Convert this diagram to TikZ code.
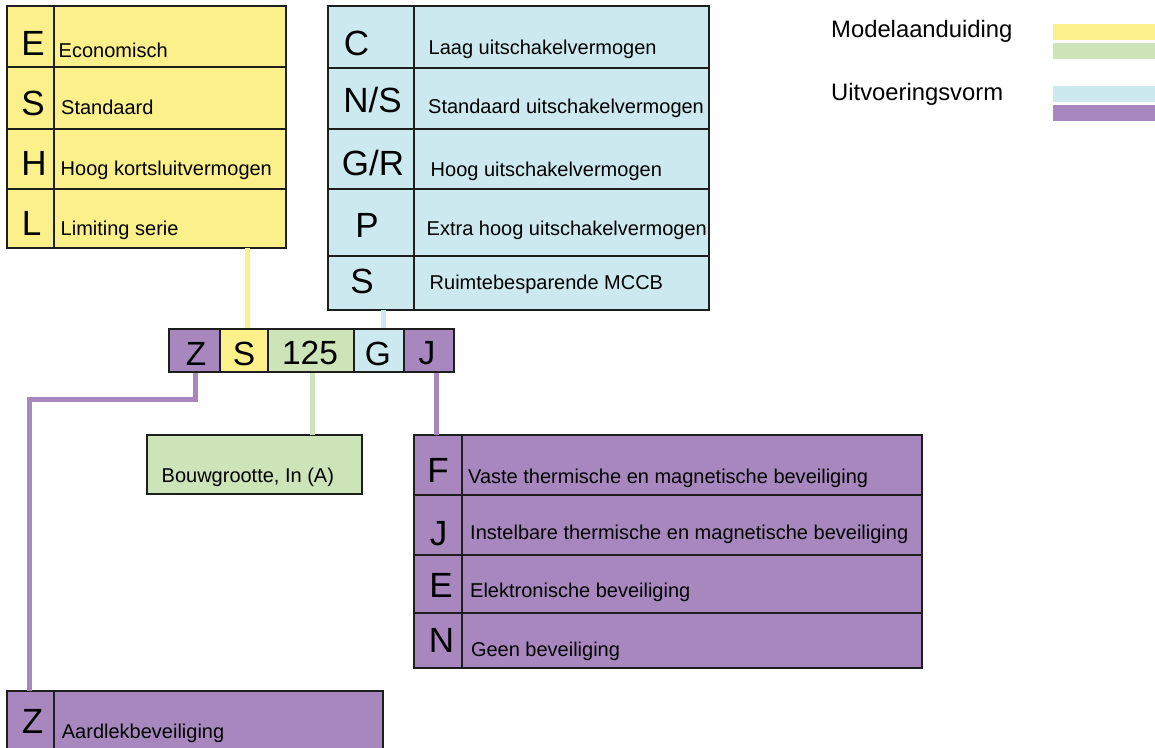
\documentclass[tikz,border=0pt]{standalone}
\usepackage{fontspec}
\setmainfont{Liberation Sans}
\definecolor{cy}{HTML}{FBF08A}
\definecolor{cg}{HTML}{CCE4B8}
\definecolor{cb}{HTML}{CCE9F0}
\definecolor{cp}{HTML}{A787BE}
\definecolor{edge}{HTML}{1E1E1E}
\tikzset{
 cell/.style={draw=edge, line width=1.8pt, rectangle, inner sep=0pt, outer sep=0pt, anchor=north west},
 small/.style={inner sep=0pt, anchor=base west, font=\fontsize{20}{21}\selectfont},
 big/.style={inner sep=0pt, anchor=base, font=\fontsize{35}{36}\selectfont},
 codetxt/.style={inner sep=0pt, anchor=base, font=\fontsize{33.5}{34}\selectfont},
 leg/.style={inner sep=0pt, anchor=base west, font=\fontsize{23.8}{24}\selectfont},
 conn/.style={line width=5pt},
 bar/.style={inner sep=0pt, outer sep=0pt, anchor=north west, rectangle, minimum width=102pt, minimum height=16pt},
}
\newcommand\mycell[6]{\node[cell, fill=#2, minimum width={(#5-#3)*1pt}, minimum height={(#6-#4)*1pt}] (#1) at (#3,#4) {};}
\begin{document}
\begin{tikzpicture}[x=1pt,y=-1pt]
\useasboundingbox (0,0) rectangle (1155,747);
\clip (0,0) rectangle (1155,747);

% yellow table
\mycell{yE1}{cy}{7}{6}{54}{67}     \mycell{yE2}{cy}{54}{6}{286}{67}
\mycell{yS1}{cy}{7}{67}{54}{129}   \mycell{yS2}{cy}{54}{67}{286}{129}
\mycell{yH1}{cy}{7}{129}{54}{189}  \mycell{yH2}{cy}{54}{129}{286}{189}
\mycell{yL1}{cy}{7}{189}{54}{248}  \mycell{yL2}{cy}{54}{189}{286}{248}

% blue table
\mycell{bC1}{cb}{328}{6}{414}{68}     \mycell{bC2}{cb}{414}{6}{709}{68}
\mycell{bN1}{cb}{328}{68}{414}{129}   \mycell{bN2}{cb}{414}{68}{709}{129}
\mycell{bG1}{cb}{328}{129}{414}{189}  \mycell{bG2}{cb}{414}{129}{709}{189}
\mycell{bP1}{cb}{328}{189}{414}{256}  \mycell{bP2}{cb}{414}{189}{709}{256}
\mycell{bS1}{cb}{328}{256}{414}{310}  \mycell{bS2}{cb}{414}{256}{709}{310}

% green box
\mycell{gbox}{cg}{147}{435}{362}{494}

% purple table
\mycell{pF1}{cp}{414}{435}{462}{495}  \mycell{pF2}{cp}{462}{435}{922}{495}
\mycell{pJ1}{cp}{414}{495}{462}{555}  \mycell{pJ2}{cp}{462}{495}{922}{555}
\mycell{pE1}{cp}{414}{555}{462}{613}  \mycell{pE2}{cp}{462}{555}{922}{613}
\mycell{pN1}{cp}{414}{613}{462}{668}  \mycell{pN2}{cp}{462}{613}{922}{668}

% Aardlek box
\mycell{aZ1}{cp}{7}{691}{54}{770}  \mycell{aZ2}{cp}{54}{691}{383}{770}

% connectors (drawn under the code bar)
\coordinate (ys) at (247.5,329);
\coordinate (bs) at (383,329);
\coordinate (gs) at (312,372);
\coordinate (js) at (436,372);
\coordinate (zs) at (195.5,372);
\coordinate (zc) at (29.5,399);
\draw[conn, cy] (ys) -- (ys |- yL2.south);
\draw[conn, cb] (bs) -- (bs |- bS1.south);
\draw[conn, cg] (gs) -- (gs |- gbox.north);
\draw[conn, cp] (js) -- (js |- pF1.north);
\draw[conn, cp] (zs) |- (zc) -- (zc |- aZ1.north);

% code bar
\mycell{cZ}{cp}{169}{329}{220}{372}
\mycell{cS}{cy}{220}{329}{268}{372}
\mycell{c125}{cg}{268}{329}{354}{372}
\mycell{cG}{cb}{354}{329}{404}{372}
\mycell{cJ}{cp}{404}{329}{454}{372}

\node[codetxt] (tZ) at (196,365) {Z};
\node[codetxt] (tS) at (244,365) {S};
\node[codetxt] (t125) at (310,364) {125};
\node[codetxt] (tG) at (378,365) {G};
\node[codetxt] (tJ) at (427,364) {J};

% yellow texts
\node[big] (lE) at (33,55) {E};
\node[big] (lS) at (33,115) {S};
\node[big] (lH) at (34,175.5) {H};
\node[big] (lL) at (31.5,235) {L};
\node[small] (xE) at (58.5,57) {Economisch};
\node[small] (xS) at (61,114) {Standaard};
\node[small] (xH) at (60.5,175.5) {Hoog kortsluitvermogen};
\node[small] (xL) at (60.5,235) {Limiting serie};

% blue texts
\node[big] (lC) at (356.5,55) {C};
\node[big] (lNS) at (372.5,112) {N/S};
\node[big] (lGR) at (373,175) {G/R};
\node[big] (lP) at (367,237) {P};
\node[big] (lS2) at (362,293) {S};
\node[small] (xC) at (428.5,54) {Laag uitschakelvermogen};
\node[small] (xNS) at (428,113) {Standaard uitschakelvermogen};
\node[small] (xGR) at (430.5,176) {Hoog uitschakelvermogen};
\node[small] (xP) at (426.5,235) {Extra hoog uitschakelvermogen};
\node[small] (xS2) at (429.5,289) {Ruimtebesparende MCCB};

% green text
\node[small] (xB) at (161.5,482) {Bouwgrootte, In (A)};

% purple texts
\node[big] (lF) at (438,482) {F};
\node[big] (lJ) at (438.5,545) {J};
\node[big] (lE2) at (441,597) {E};
\node[big] (lN) at (441.5,652) {N};
\node[small] (xF) at (468,483) {Vaste thermische en magnetische beveiliging};
\node[small] (xJ) at (470,539.5) {Instelbare thermische en magnetische beveiliging};
\node[small] (xE2) at (470,597) {Elektronische beveiliging};
\node[small] (xN) at (470.8,656.5) {Geen beveiliging};

% Aardlek
\node[big] (lZ) at (32.5,733) {Z};
\node[small] (xZ) at (61.7,738) {Aardlekbeveiliging};

% legend
\node[leg] (mTxt) at (831,37) {Modelaanduiding};
\node[leg] (uTxt) at (831,100.5) {Uitvoeringsvorm};
\node[bar, fill=cy] (barY) at (1053,24) {};
\node[bar, fill=cg] (barG) at (1053,43) {};
\node[bar, fill=cb] (barB) at (1053,86) {};
\node[bar, fill=cp] (barP) at (1053,105) {};
\end{tikzpicture}
\end{document}
